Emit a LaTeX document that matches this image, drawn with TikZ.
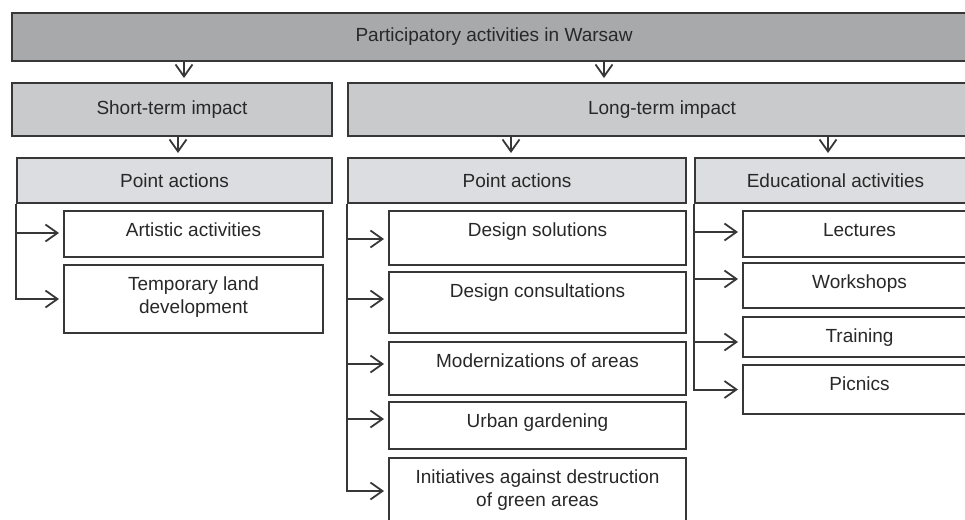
\documentclass[tikz,border=0pt]{standalone}
\usepackage{fontspec}
\setmainfont{Liberation Sans}
\usetikzlibrary{arrows.meta}

\definecolor{edgegray}{RGB}{55,55,55}
\definecolor{textgray}{RGB}{40,40,40}
\definecolor{levelone}{RGB}{168,169,171}
\definecolor{leveltwo}{RGB}{201,202,204}
\definecolor{levelthree}{RGB}{220,221,224}

\tikzset{
  box/.style={draw=edgegray, line width=2pt, rectangle, anchor=north west,
    inner sep=0pt, text=textgray, font=\fontsize{19}{23}\selectfont},
  lbl/.style={anchor=north, inner sep=0pt, yshift=-13pt, align=center,
    text=textgray, font=\fontsize{19}{23}\selectfont},
  item/.style={box, fill=white, label={[lbl]north:#1}},
  arr/.style={draw=edgegray, line width=2pt,
    -{Straight Barb[length=12pt,width=17pt,line width=1.8pt]}, shorten >=4pt}
}

\begin{document}
\begin{tikzpicture}[x=1pt,y=-1pt]
\clip (0,0) rectangle (965,519);

% headers
\node[box, fill=levelone, minimum width=964pt, minimum height=48pt] (top) at (11,12) {Participatory activities in Warsaw};
\node[box, fill=leveltwo, minimum width=320pt, minimum height=53pt] (sti) at (11,82) {Short-term impact};
\node[box, fill=leveltwo, minimum width=628pt, minimum height=53pt] (lti) at (347,82) {Long-term impact};
\node[box, fill=levelthree, minimum width=315pt, minimum height=45pt] (pal) at (16,157) {Point actions};
\node[box, fill=levelthree, minimum width=338pt, minimum height=45pt] (pam) at (347,157) {Point actions};
\node[box, fill=levelthree, minimum width=281pt, minimum height=45pt] (edu) at (694,157) {Educational activities};

% short-term items
\node[item={Artistic activities}, minimum width=259pt, minimum height=46pt] (art) at (63,210) {};
\node[item={Temporary land\\development}, minimum width=259pt, minimum height=68pt] (tld) at (63,264) {};

% long-term point actions
\node[item={Design solutions}, minimum width=297pt, minimum height=54pt] (dsol) at (388,210) {};
\node[item={Design consultations}, minimum width=297pt, minimum height=61pt] (dcon) at (388,271) {};
\node[item={Modernizations of areas}, minimum width=297pt, minimum height=53pt] (mod) at (388,341) {};
\node[item={Urban gardening}, minimum width=297pt, minimum height=47pt] (urb) at (388,401) {};
\node[item={Initiatives against destruction\\of green areas}, minimum width=297pt, minimum height=66pt] (ini) at (388,457) {};

% educational activities
\node[item={Lectures}, minimum width=233pt, minimum height=46pt] (lec) at (742,210) {};
\node[item={Workshops}, minimum width=233pt, minimum height=45pt] (wsh) at (742,262) {};
\node[item={Training}, minimum width=233pt, minimum height=40pt] (trn) at (742,316) {};
\node[item={Picnics}, minimum width=233pt, minimum height=49pt] (pic) at (742,364) {};

% top-down arrows
\draw[arr] ([xshift=12pt]sti.north |- top.south) -- ([xshift=12pt]sti.north);
\draw[arr] ([xshift=-58pt]lti.north |- top.south) -- ([xshift=-58pt]lti.north);
\draw[arr] ([xshift=3.5pt]pal.north |- sti.south) -- ([xshift=3.5pt]pal.north);
\draw[arr] ([xshift=-6pt]pam.north |- lti.south) -- ([xshift=-6pt]pam.north);
\draw[arr] ([xshift=-7.5pt]edu.north |- lti.south) -- ([xshift=-7.5pt]edu.north);

% branches
\draw[arr] (pal.south west) |- ([yshift=1pt]art.west);
\draw[arr] (pal.south west) |- (tld.west);

\draw[arr] (pam.south west) |- ([yshift=-1pt]dsol.west);
\draw[arr] (pam.south west) |- ([yshift=3.5pt]dcon.west);
\draw[arr] (pam.south west) |- ([yshift=4.5pt]mod.west);
\draw[arr] (pam.south west) |- ([yshift=6.5pt]urb.west);
\draw[arr] (pam.south west) |- (ini.west);

\draw[arr] (edu.south west) |- ([yshift=2pt]lec.west);
\draw[arr] (edu.south west) |- ([yshift=6.5pt]wsh.west);
\draw[arr] (edu.south west) |- ([yshift=-5pt]trn.west);
\draw[arr] (edu.south west) |- (pic.west);
\end{tikzpicture}
\end{document}
